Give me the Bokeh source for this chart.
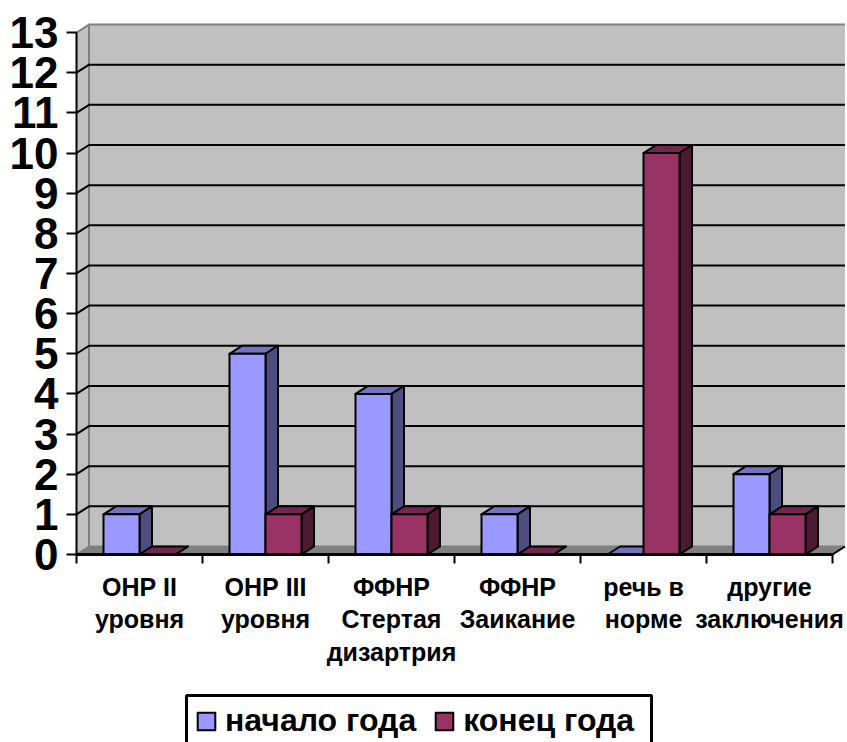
from bokeh.plotting import figure
from bokeh.models import FixedTicker, Legend, LegendItem, Range1d, BoxAnnotation
from bokeh.embed import file_html
from bokeh.resources import INLINE

categories = ["ОНР II\nуровня", "ОНР III\nуровня", "ФФНР\nСтертая\nдизартрия",
              "ФФНР\nЗаикание", "речь в\nнорме", "другие\nзаключения"]
start_year = [1, 5, 4, 1, 0, 2]
end_year = [0, 1, 1, 0, 10, 1]
series_names = ["начало года", "конец года"]
y_ticks = list(range(14))

OX = 76; OY = 554; PXX = 126.0; PXY = 40.15
WIDTH = 847; HEIGHT = 742
DX = 12.5 / PXX          # 3-D depth in category units
DY = 8.0 / PXY           # 3-D depth in value units
BW = 36.0 / PXX          # bar width in category units

p = figure(frame_width=WIDTH, frame_height=HEIGHT, output_backend="svg", toolbar_location=None,
           x_range=Range1d(-OX / PXX, (WIDTH - OX) / PXX),
           y_range=Range1d((OY - HEIGHT) / PXY, OY / PXY),
           min_border=0)
p.grid.visible = False
p.outline_line_color = None
p.background_fill_color = "white"
p.border_fill_color = "white"

XMAX = len(categories)
YMAX = y_ticks[-1]
GRAY = "#C0C0C0"; DARK = "#808080"

# walls and floor
p.patch([0, DX, DX, 0], [0, DY, YMAX + DY, YMAX], fill_color=GRAY, line_color=None)
p.patch([DX, XMAX + DX, XMAX + DX, DX], [DY, DY, YMAX + DY, YMAX + DY], fill_color=GRAY, line_color=None)
p.patch([0, XMAX, XMAX + DX, DX], [0, 0, DY, DY], fill_color=DARK, line_color=None)
# wall edges
p.line([DX, DX], [DY, YMAX + DY], line_color=DARK, line_width=2)
p.line([0, DX, XMAX + DX], [YMAX, YMAX + DY, YMAX + DY], line_color=DARK, line_width=2)
p.line([0, DX], [0, DY], line_color=DARK, line_width=2)
p.line([DX, XMAX + DX], [DY, DY], line_color=DARK, line_width=2)
p.line([XMAX, XMAX + DX], [0, DY], line_color="black", line_width=2)
# gridlines
for t in y_ticks[1:-1]:
    p.line([0, DX, XMAX + DX], [t, t + DY, t + DY], line_color="black", line_width=2)


def bar(x0, h, front, top, side):
    x1 = x0 + BW
    p.patch([x0, x1, x1 + DX, x0 + DX], [h, h, h + DY, h + DY], fill_color=top,
            line_color="black", line_width=2, line_join="round")
    p.patch([x1, x1 + DX, x1 + DX, x1], [0, DY, h + DY, h], fill_color=side,
            line_color="black", line_width=2, line_join="round")
    return p.patch([x0, x1, x1, x0], [0, 0, h, h], fill_color=front,
                   line_color="black", line_width=2, line_join="round")


# draw back to front, left to right
r_a = []
r_b = []
for i, (a, b) in enumerate(zip(start_year, end_year)):
    c = i + 0.5
    r_a.append(bar(c - BW, a, "#9999FF", "#7373BF", "#4D4D80"))
    r_b.append(bar(c, b, "#993366", "#732650", "#4D1A33"))

# axes
ax = p.xaxis[0]
ax.fixed_location = 0
ax.bounds = (0, XMAX)
ax.ticker = FixedTicker(ticks=[i + 0.5 for i in range(XMAX)], minor_ticks=list(range(XMAX + 1)))
ax.major_label_overrides = {i + 0.5: c for i, c in enumerate(categories)}
ax.major_tick_out = 0; ax.major_tick_in = 0
ax.minor_tick_out = 9; ax.minor_tick_in = 0
ax.minor_tick_line_color = "black"; ax.minor_tick_line_width = 2
ax.axis_line_color = "black"; ax.axis_line_width = 3
ax.major_label_text_font = "Liberation Sans"
ax.major_label_text_font_style = "bold"
ax.major_label_text_font_size = "25px"
ax.major_label_text_line_height = 1.17
ax.major_label_text_color = "black"
ax.major_label_standoff = 9
ax.major_label_orientation = "horizontal"

ay = p.yaxis[0]
ay.fixed_location = 0
ay.bounds = (0, YMAX)
ay.ticker = FixedTicker(ticks=y_ticks, minor_ticks=[])
ay.major_tick_out = 10; ay.major_tick_in = 0
ay.major_tick_line_color = "black"; ay.major_tick_line_width = 2
ay.axis_line_color = "black"; ay.axis_line_width = 2
ay.major_label_text_font = "Liberation Sans"
ay.major_label_text_font_style = "bold"
ay.major_label_text_font_size = "44px"
ay.major_label_text_color = "black"
ay.major_label_standoff = 8

# legend frame runs past the bottom of the picture, as in the reference
p.add_layout(BoxAnnotation(left=(186 - OX) / PXX, right=(651 - OX) / PXX,
                           top=(OY - 695) / PXY, bottom=(OY - 760) / PXY,
                           fill_color="white", fill_alpha=1,
                           line_color="black", line_alpha=1, line_width=3))

legend = Legend(items=[LegendItem(label=series_names[0], renderers=[r_a[0]]),
                       LegendItem(label=series_names[1], renderers=[r_b[1]])],
                orientation="horizontal", location=(195, 3),
                label_text_font="Liberation Sans", label_text_font_style="bold",
                label_text_font_size="32px", label_text_color="black",
                glyph_width=22, glyph_height=22, spacing=17, label_standoff=8,
                padding=5, margin=0,
                border_line_color=None, background_fill_alpha=0)
p.add_layout(legend, "center")

open("out.html", "w").write(file_html(p, INLINE))
